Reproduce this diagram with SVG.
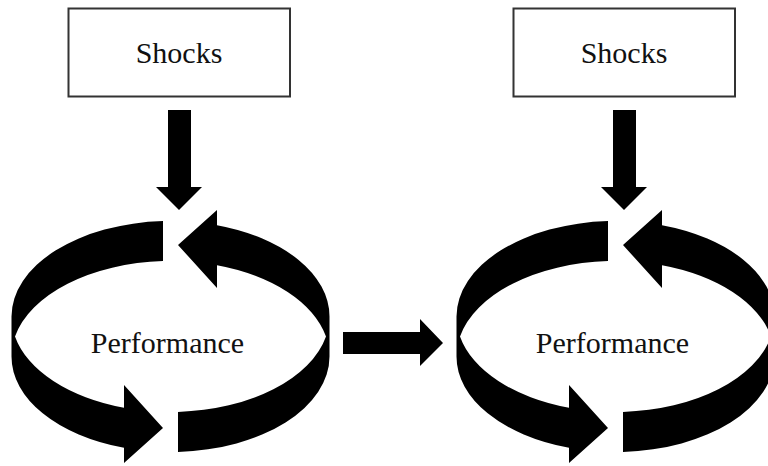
<svg xmlns="http://www.w3.org/2000/svg" xmlns:xlink="http://www.w3.org/1999/xlink" width="768" height="466" viewBox="0 0 768 466">
  <style>
    .box { fill: #ffffff; stroke: #333333; stroke-width: 2; }
    .label { font-family: "Liberation Serif", "Times New Roman", serif; font-size: 30px; fill: #111111; text-anchor: middle; }
    .solid { fill: #000000; stroke: none; }
  </style>
  <defs>
    <!-- half of the circular band: curved arrow running from the top gap, around the left side, to the bottom arrowhead -->
    <path id="halfLoop" d="M163 221.1 A159 95.5 0 0 0 11.5 316.5 L11.5 356.5 A159 95.5 0 0 0 124 447.8 L124 463 L163 428 L124 385 L124 407.8 A159 95.5 0 0 1 15 336.5 A159 95.5 0 0 1 163 261.1 Z"/>
    <!-- full cycle: the half band plus its copy turned half a revolution -->
    <g id="cycle">
      <use xlink:href="#halfLoop" class="solid"/>
      <use xlink:href="#halfLoop" class="solid" transform="rotate(180 170.5 336.5)"/>
    </g>
    <path id="downArrow" d="M168 110 H191 V187 H202 L179 210 L156 187 H168 Z"/>
  </defs>

  <rect width="768" height="466" fill="#ffffff"/>

  <g id="shocks-1">
    <rect class="box" x="68.5" y="8.5" width="221.5" height="88"/>
    <text class="label" x="179" y="63">Shocks</text>
  </g>

  <g id="shocks-2">
    <rect class="box" x="513.5" y="8.5" width="221.5" height="88"/>
    <text class="label" x="624" y="63">Shocks</text>
  </g>

  <g id="performance-1">
    <use xlink:href="#cycle"/>
    <text class="label" x="167.5" y="353">Performance</text>
  </g>

  <g id="performance-2">
    <use xlink:href="#cycle" transform="translate(445 0)"/>
    <text class="label" x="612.5" y="353">Performance</text>
  </g>

  <g id="connectors">
    <use xlink:href="#downArrow" class="solid"/>
    <use xlink:href="#downArrow" class="solid" transform="translate(445 0)"/>
    <path class="solid" d="M343 332 H420 V319 L443 343 L420 366 V354 H343 Z"/>
  </g>
</svg>
